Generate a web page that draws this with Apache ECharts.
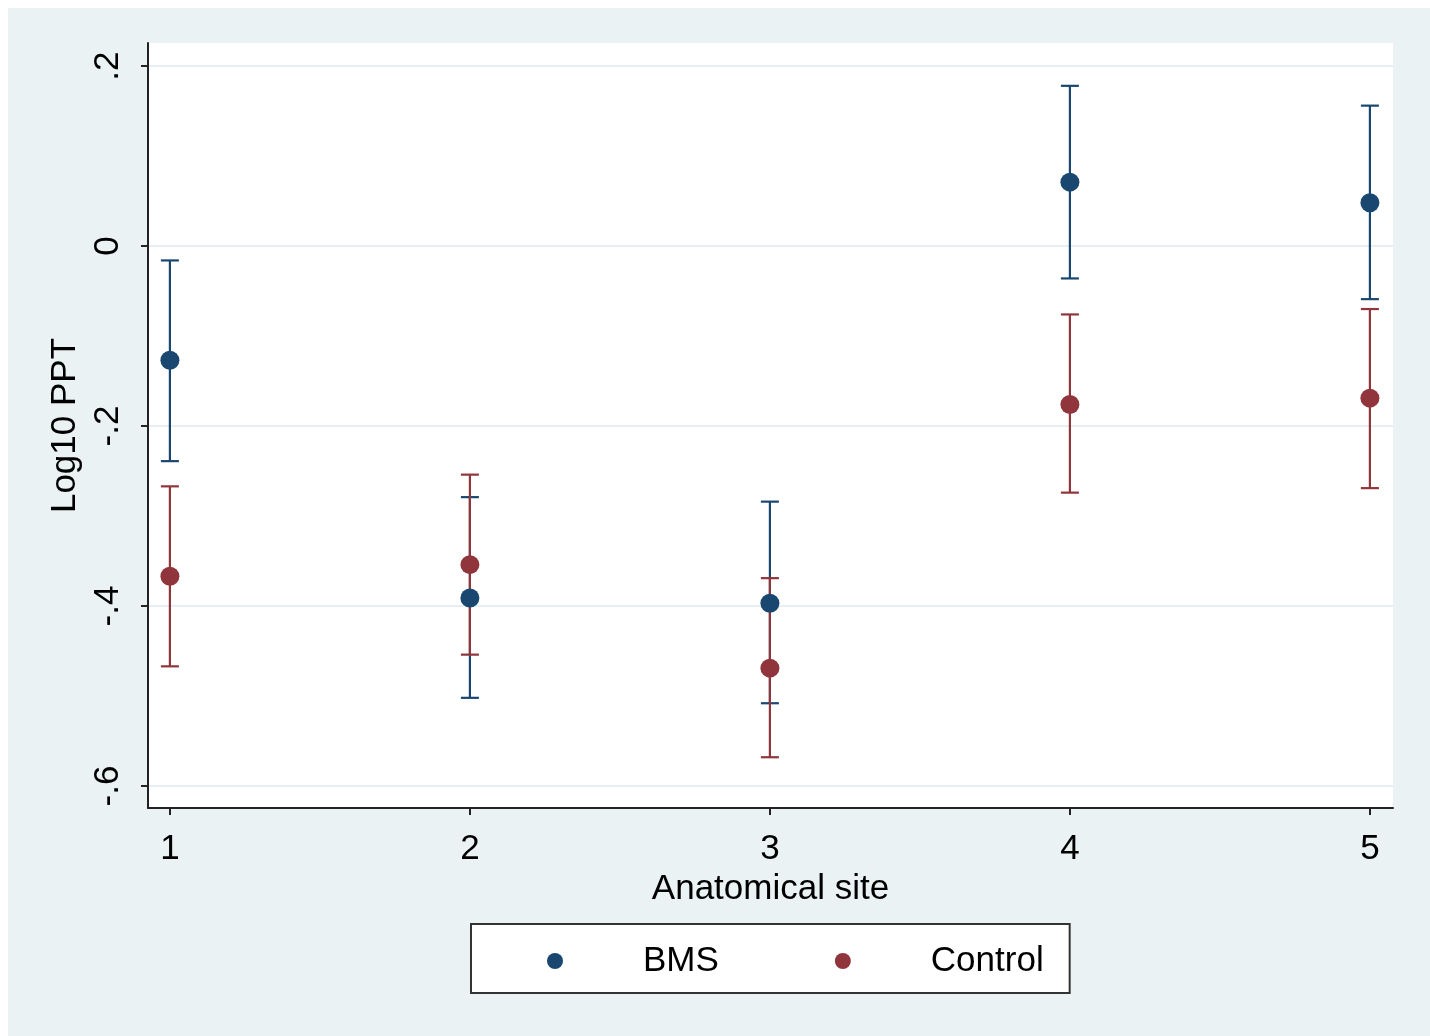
<!DOCTYPE html>
<html>
<head>
<meta charset="utf-8">
<script src="https://cdn.jsdelivr.net/npm/echarts@6/dist/echarts.min.js"></script>
<style>
  html, body { margin: 0; padding: 0; background: #ffffff; }
  #chart { position: absolute; left: 8px; top: 8px; width: 1422px; height: 1028px; }
</style>
</head>
<body>
<div id="chart"></div>
<script>
// ---- data ----
const sites = [1, 2, 3, 4, 5];
const bmsMean  = [-0.127, -0.391, -0.397, 0.071, 0.048];
const bmsLow   = [-0.239, -0.502, -0.508, -0.036, -0.059];
const bmsHigh  = [-0.016, -0.279, -0.284, 0.178, 0.156];
const ctrlMean = [-0.367, -0.354, -0.469, -0.176, -0.169];
const ctrlLow  = [-0.467, -0.454, -0.568, -0.274, -0.269];
const ctrlHigh = [-0.267, -0.254, -0.369, -0.076, -0.070];
const yTickValues = [-0.6, -0.4, -0.2, 0, 0.2];
const yTickLabels = ['-.6', '-.4', '-.2', '0', '.2'];
const xTickValues = [1, 2, 3, 4, 5];
const xTickLabels = ['1', '2', '3', '4', '5'];
const seriesNames = ['BMS', 'Control'];

const NAVY = '#1a476f';
const MAROON = '#90353b';
const FONT = 'Liberation Sans, Arial, Helvetica, sans-serif';

function errData(low, high) {
  return sites.map((s, i) => [s, low[i], high[i]]);
}
function pointData(mean) {
  return sites.map((s, i) => [s, mean[i]]);
}
function errRender(color) {
  return function (params, api) {
    const x = api.value(0);
    const lo = api.coord([x, api.value(1)]);
    const hi = api.coord([x, api.value(2)]);
    const hw = 9;
    const style = { stroke: color, lineWidth: 2.2, fill: null };
    return {
      type: 'group',
      children: [
        { type: 'line', shape: { x1: lo[0], y1: lo[1], x2: hi[0], y2: hi[1] }, style: style },
        { type: 'line', shape: { x1: lo[0] - hw, y1: lo[1], x2: lo[0] + hw, y2: lo[1] }, style: style },
        { type: 'line', shape: { x1: hi[0] - hw, y1: hi[1], x2: hi[0] + hw, y2: hi[1] }, style: style }
      ]
    };
  };
}

const chart = echarts.init(document.getElementById('chart'));
chart.setOption({
  backgroundColor: '#eaf2f3',
  animation: false,
  textStyle: { fontFamily: FONT },
  grid: {
    left: 140, top: 35, right: 37, bottom: 228,
    show: true, backgroundColor: '#ffffff', borderWidth: 0
  },
  legend: {
    data: seriesNames,
    left: 463, top: 916,
    orient: 'horizontal',
    backgroundColor: '#ffffff',
    borderColor: '#333333',
    borderWidth: 2,
    borderRadius: 0,
    padding: [17, 26, 12, 76],
    itemGap: 116,
    itemWidth: 16, itemHeight: 16,
    icon: 'circle',
    selectedMode: false,
    textStyle: { fontSize: 35, color: '#000', fontFamily: FONT, padding: [0, 0, 0, 75], lineHeight: 40 }
  },
  xAxis: {
    type: 'value',
    min: 0.927, max: 5.077,
    name: 'Anatomical site',
    nameLocation: 'middle',
    nameGap: 57,
    nameTextStyle: { fontSize: 35, color: '#000', fontFamily: FONT },
    axisLine: { show: true, onZero: false, lineStyle: { color: '#222', width: 2 } },
    axisTick: { show: true, length: 7, lineStyle: { color: '#222', width: 2 }, customValues: xTickValues },
    axisLabel: {
      fontSize: 35, color: '#000', margin: 24, customValues: xTickValues,
      formatter: v => xTickLabels[xTickValues.indexOf(v)]
    },
    splitLine: { show: false }
  },
  yAxis: {
    type: 'value',
    min: -0.6244, max: 0.2256,
    name: 'Log10 PPT',
    nameLocation: 'middle',
    nameRotate: 90,
    nameGap: 61,
    nameTextStyle: { fontSize: 35, color: '#000', fontFamily: FONT },
    axisLine: { show: true, onZero: false, lineStyle: { color: '#222', width: 2 } },
    axisTick: { show: true, length: 7, lineStyle: { color: '#222', width: 2 }, customValues: yTickValues },
    axisLabel: {
      fontSize: 35, color: '#000', margin: 22, rotate: 90, customValues: yTickValues,
      formatter: v => {
        const i = yTickValues.findIndex(t => Math.abs(t - v) < 1e-6);
        return i >= 0 ? yTickLabels[i] : '';
      }
    },
    splitLine: { show: true, lineStyle: { color: '#e6eff1', width: 2 } }
  },
  series: [
    { name: 'BMS err', type: 'custom', renderItem: errRender(NAVY), data: errData(bmsLow, bmsHigh), z: 2, silent: true },
    { name: 'Control err', type: 'custom', renderItem: errRender(MAROON), data: errData(ctrlLow, ctrlHigh), z: 3, silent: true },
    { name: 'BMS', type: 'scatter', data: pointData(bmsMean), symbol: 'circle', symbolSize: 19, itemStyle: { color: NAVY, opacity: 1 }, z: 4 },
    { name: 'Control', type: 'scatter', data: pointData(ctrlMean), symbol: 'circle', symbolSize: 19, itemStyle: { color: MAROON, opacity: 1 }, z: 5 }
  ]
});
</script>
</body>
</html>
